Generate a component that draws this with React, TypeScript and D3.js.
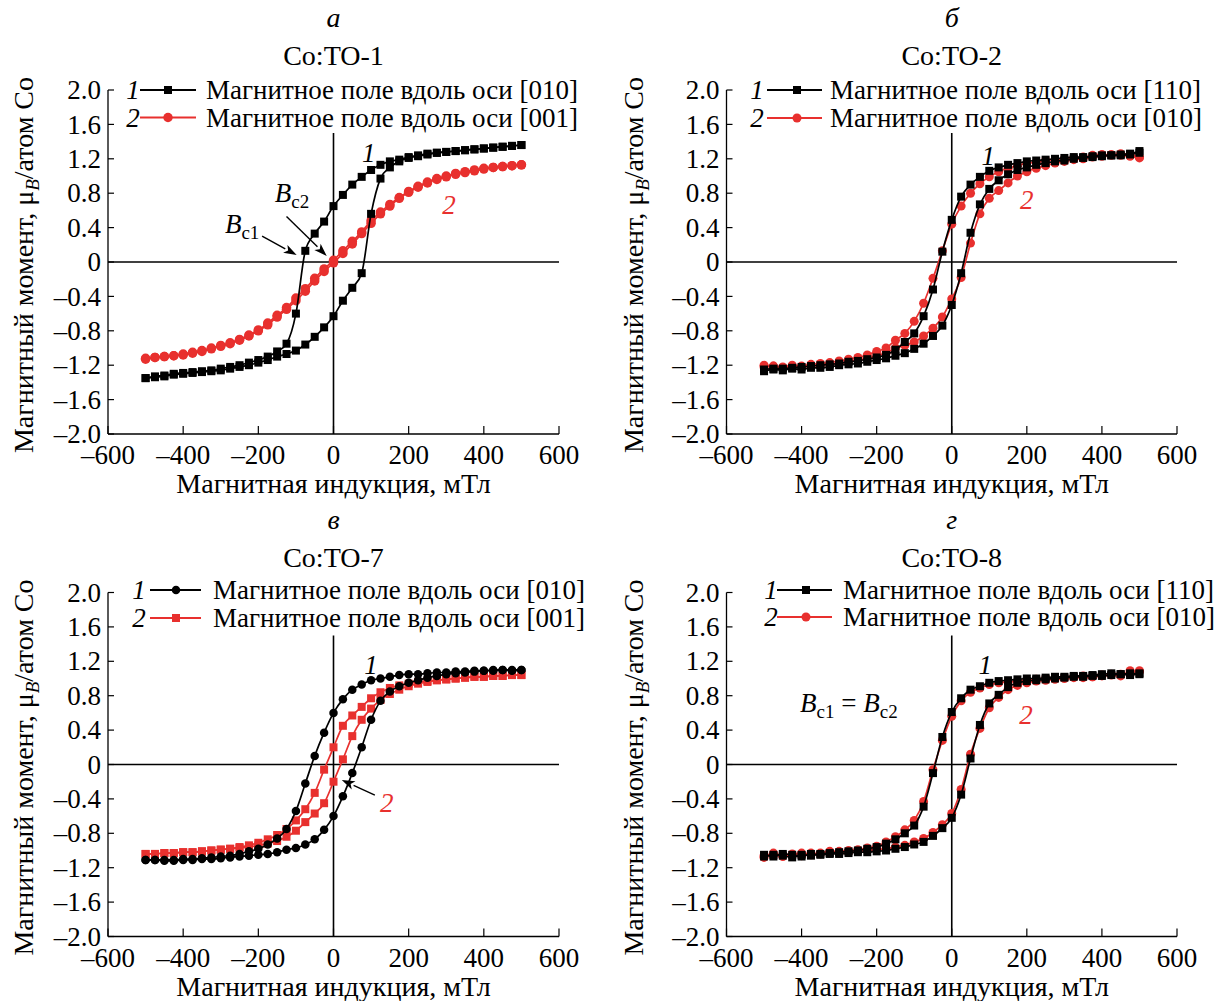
import React from "react";
import * as d3 from "d3";

// ---------- data ----------
const FIELD = [-500, -475, -450, -425, -400, -375, -350, -325, -300, -275, -250, -225, -200, -175, -150, -125, -100, -75, -50, -25, 0, 25, 50, 75, 100, 125, 150, 175, 200, 225, 250, 275, 300, 325, 350, 375, 400, 425, 450, 475, 500];

const X_TICKS = [-600, -400, -200, 0, 200, 400, 600];
const X_TICK_LABELS = ["–600", "–400", "–200", "0", "200", "400", "600"];
const Y_TICKS = [2.0, 1.6, 1.2, 0.8, 0.4, 0, -0.4, -0.8, -1.2, -1.6, -2.0];
const Y_TICK_LABELS = ["2.0", "1.6", "1.2", "0.8", "0.4", "0", "–0.4", "–0.8", "–1.2", "–1.6", "–2.0"];

const PANEL_LETTERS = ["а", "б", "в", "г"];
const PANEL_TITLES = ["Co:TO-1", "Co:TO-2", "Co:TO-7", "Co:TO-8"];
const LEGEND_LABELS = [
  ["Магнитное поле вдоль оси [010]", "Магнитное поле вдоль оси [001]"],
  ["Магнитное поле вдоль оси [110]", "Магнитное поле вдоль оси [010]"],
  ["Магнитное поле вдоль оси [010]", "Магнитное поле вдоль оси [001]"],
  ["Магнитное поле вдоль оси [110]", "Магнитное поле вдоль оси [010]"],
];
const X_TITLE = "Магнитная индукция, мТл";

// Panel а (Co:TO-1)
const A1_DOWN = [-1.35, -1.33, -1.32, -1.30, -1.29, -1.28, -1.27, -1.26, -1.24, -1.22, -1.20, -1.17, -1.14, -1.10, -1.04, -0.95, -0.60, 0.13, 0.33, 0.47, 0.65, 0.78, 0.90, 0.99, 1.07, 1.13, 1.17, 1.19, 1.22, 1.24, 1.26, 1.27, 1.28, 1.29, 1.30, 1.31, 1.32, 1.33, 1.34, 1.35, 1.36];
const A1_UP = [-1.35, -1.34, -1.33, -1.31, -1.30, -1.29, -1.28, -1.27, -1.26, -1.24, -1.22, -1.20, -1.17, -1.14, -1.10, -1.07, -1.03, -0.96, -0.87, -0.76, -0.63, -0.45, -0.30, -0.13, 0.56, 0.97, 1.10, 1.17, 1.21, 1.23, 1.25, 1.27, 1.28, 1.29, 1.30, 1.31, 1.32, 1.33, 1.34, 1.35, 1.36];
const A2_DOWN = [-1.12, -1.11, -1.10, -1.09, -1.07, -1.05, -1.03, -1.00, -0.97, -0.94, -0.90, -0.85, -0.79, -0.71, -0.62, -0.53, -0.42, -0.31, -0.19, -0.08, 0.02, 0.13, 0.24, 0.35, 0.48, 0.58, 0.67, 0.75, 0.82, 0.88, 0.93, 0.97, 1.00, 1.03, 1.05, 1.07, 1.09, 1.10, 1.11, 1.12, 1.13];
const A2_UP = [-1.13, -1.11, -1.10, -1.09, -1.08, -1.06, -1.04, -1.01, -0.98, -0.95, -0.91, -0.86, -0.80, -0.73, -0.64, -0.55, -0.45, -0.34, -0.22, -0.11, -0.01, 0.10, 0.21, 0.33, 0.45, 0.56, 0.65, 0.74, 0.81, 0.87, 0.92, 0.96, 0.99, 1.02, 1.04, 1.06, 1.08, 1.10, 1.11, 1.12, 1.13];

// Panel б (Co:TO-2)
const B1_DOWN = [-1.25, -1.24, -1.24, -1.23, -1.22, -1.21, -1.20, -1.19, -1.18, -1.16, -1.15, -1.13, -1.11, -1.08, -1.02, -0.93, -0.83, -0.63, -0.32, 0.12, 0.49, 0.76, 0.90, 0.99, 1.06, 1.10, 1.13, 1.15, 1.17, 1.18, 1.19, 1.20, 1.21, 1.22, 1.22, 1.23, 1.24, 1.24, 1.25, 1.26, 1.29];
const B1_UP = [-1.27, -1.25, -1.26, -1.24, -1.25, -1.23, -1.23, -1.22, -1.20, -1.19, -1.18, -1.16, -1.14, -1.12, -1.09, -1.06, -1.01, -0.95, -0.86, -0.74, -0.50, -0.13, 0.34, 0.67, 0.85, 0.95, 1.02, 1.07, 1.10, 1.13, 1.15, 1.17, 1.18, 1.20, 1.21, 1.22, 1.23, 1.24, 1.24, 1.25, 1.27];
const B2_DOWN = [-1.20, -1.21, -1.22, -1.20, -1.21, -1.19, -1.18, -1.17, -1.15, -1.13, -1.11, -1.08, -1.04, -1.00, -0.91, -0.83, -0.69, -0.48, -0.19, 0.13, 0.44, 0.65, 0.80, 0.91, 0.99, 1.05, 1.09, 1.12, 1.15, 1.16, 1.18, 1.19, 1.20, 1.21, 1.22, 1.24, 1.25, 1.24, 1.26, 1.25, 1.22];
const B2_UP = [-1.22, -1.21, -1.23, -1.22, -1.22, -1.21, -1.20, -1.19, -1.18, -1.16, -1.14, -1.12, -1.09, -1.06, -1.00, -0.97, -0.93, -0.86, -0.77, -0.64, -0.43, -0.18, 0.22, 0.56, 0.74, 0.83, 0.92, 1.00, 1.05, 1.09, 1.12, 1.15, 1.17, 1.19, 1.20, 1.22, 1.23, 1.25, 1.24, 1.23, 1.21];

// Panel в (Co:TO-7)
const C1_DOWN = [-1.11, -1.11, -1.11, -1.11, -1.10, -1.10, -1.09, -1.08, -1.07, -1.06, -1.04, -1.01, -0.98, -0.93, -0.86, -0.75, -0.54, -0.22, 0.10, 0.37, 0.60, 0.76, 0.87, 0.93, 0.98, 1.00, 1.02, 1.04, 1.05, 1.05, 1.06, 1.07, 1.07, 1.08, 1.08, 1.09, 1.09, 1.10, 1.10, 1.10, 1.10];
const C1_UP = [-1.11, -1.11, -1.12, -1.12, -1.11, -1.11, -1.10, -1.10, -1.09, -1.08, -1.07, -1.06, -1.05, -1.04, -1.02, -0.99, -0.97, -0.93, -0.87, -0.76, -0.60, -0.37, -0.10, 0.20, 0.52, 0.74, 0.85, 0.91, 0.95, 0.98, 1.01, 1.03, 1.05, 1.06, 1.07, 1.08, 1.09, 1.09, 1.10, 1.09, 1.10];
const C2_DOWN = [-1.04, -1.04, -1.03, -1.03, -1.02, -1.02, -1.01, -1.00, -0.99, -0.98, -0.96, -0.94, -0.91, -0.87, -0.82, -0.75, -0.65, -0.52, -0.33, -0.06, 0.20, 0.45, 0.57, 0.67, 0.77, 0.84, 0.89, 0.92, 0.94, 0.96, 0.97, 0.98, 0.99, 1.00, 1.01, 1.02, 1.02, 1.03, 1.03, 1.04, 1.04];
const C2_UP = [-1.04, -1.04, -1.03, -1.03, -1.02, -1.02, -1.01, -1.00, -0.99, -0.98, -0.97, -0.96, -0.94, -0.92, -0.89, -0.84, -0.77, -0.67, -0.57, -0.45, -0.20, 0.06, 0.33, 0.52, 0.65, 0.75, 0.82, 0.87, 0.91, 0.94, 0.96, 0.98, 0.99, 1.00, 1.01, 1.02, 1.02, 1.03, 1.03, 1.04, 1.04];

// Panel г (Co:TO-8)
const D1_DOWN = [-1.07, -1.05, -1.06, -1.08, -1.05, -1.06, -1.04, -1.03, -1.02, -1.01, -1.00, -0.98, -0.96, -0.92, -0.87, -0.80, -0.71, -0.49, -0.10, 0.32, 0.61, 0.77, 0.87, 0.91, 0.95, 0.97, 0.98, 0.99, 1.00, 1.00, 1.01, 1.02, 1.02, 1.03, 1.03, 1.04, 1.05, 1.06, 1.05, 1.06, 1.05];
const D1_UP = [-1.05, -1.07, -1.04, -1.05, -1.07, -1.04, -1.05, -1.04, -1.04, -1.03, -1.02, -1.02, -1.01, -1.00, -0.98, -0.96, -0.93, -0.90, -0.83, -0.74, -0.62, -0.35, 0.07, 0.46, 0.71, 0.81, 0.90, 0.95, 0.97, 0.98, 0.99, 1.00, 1.01, 1.02, 1.02, 1.03, 1.03, 1.04, 1.05, 1.04, 1.06];
const D2_DOWN = [-1.08, -1.03, -1.06, -1.05, -1.03, -1.05, -1.03, -1.01, -1.01, -1.00, -0.99, -0.97, -0.95, -0.90, -0.84, -0.76, -0.65, -0.43, -0.06, 0.28, 0.56, 0.74, 0.84, 0.89, 0.93, 0.95, 0.96, 0.97, 0.98, 0.99, 1.00, 1.00, 1.01, 1.02, 1.03, 1.02, 1.04, 1.05, 1.03, 1.09, 1.08];
const D2_UP = [-1.06, -1.05, -1.07, -1.04, -1.06, -1.03, -1.04, -1.03, -1.03, -1.02, -1.01, -1.00, -0.99, -0.98, -0.96, -0.94, -0.90, -0.86, -0.79, -0.70, -0.57, -0.29, 0.12, 0.42, 0.66, 0.78, 0.87, 0.92, 0.95, 0.97, 0.98, 0.99, 1.00, 1.01, 1.01, 1.02, 1.03, 1.04, 1.05, 1.05, 1.09];

// ---------- styling ----------
const FONT = "'Liberation Serif', 'Times New Roman', serif";
const FS = 27;      // ticks, legend, notes
const FS_T = 28;    // titles & axis titles
const RED = "#e8302e";
const BLACK = "#000";

type Series = { color: string; marker: "square" | "circle"; size: number; branches: number[][] };

type PanelCfg = {
  x0: number; x1: number; yTop: number; yBot: number;
  letter: string; title: string;
  letterY: number; titleY: number;
  yTitleX: number;
  legend: { num: number; l0: number; l1: number; mk: number; tx: number; rows: number[] };
  legendLabels: string[];
  series: Series[];
  notes: (x: d3.ScaleLinear<number, number>, y: d3.ScaleLinear<number, number>) => React.ReactNode;
};

function Marker({ kind, cx, cy, size, color }: { kind: string; cx: number; cy: number; size: number; color: string }) {
  if (kind === "square") {
    return <rect x={cx - size / 2} y={cy - size / 2} width={size} height={size} fill={color} />;
  }
  return <circle cx={cx} cy={cy} r={size / 2} fill={color} />;
}

function Arrow({ x1, y1, x2, y2 }: { x1: number; y1: number; x2: number; y2: number }) {
  const ang = Math.atan2(y2 - y1, x2 - x1);
  const L = 13, W = 4.5;
  const bx = x2 - L * Math.cos(ang), by = y2 - L * Math.sin(ang);
  const px = -Math.sin(ang) * W, py = Math.cos(ang) * W;
  return (
    <g>
      <line x1={x1} y1={y1} x2={bx} y2={by} stroke="#000" strokeWidth={1.4} />
      <polygon points={`${x2},${y2} ${bx + px},${by + py} ${bx + L * 0.25 * Math.cos(ang)},${by + L * 0.25 * Math.sin(ang)} ${bx - px},${by - py}`} fill="#000" />
    </g>
  );
}

function BLabel({ x, y, sub }: { x: number; y: number; sub: string }) {
  return (
    <text x={x} y={y} fontFamily={FONT} fontSize={FS}>
      <tspan fontStyle="italic">B</tspan>
      <tspan fontSize={19} dy={6}>{sub}</tspan>
    </text>
  );
}

function Panel({ cfg }: { cfg: PanelCfg }) {
  const x = d3.scaleLinear().domain([-600, 600]).range([cfg.x0, cfg.x1]);
  const y = d3.scaleLinear().domain([-2, 2]).range([cfg.yBot, cfg.yTop]);
  const line = d3
    .line<number>()
    .x((_, i) => x(FIELD[i]))
    .y((d) => y(d))
    .curve(d3.curveMonotoneX);
  const cx = (cfg.x0 + cfg.x1) / 2;
  const cy = (cfg.yTop + cfg.yBot) / 2;
  const order = [1, 0];
  return (
    <g fontFamily={FONT}>
      <text x={cx} y={cfg.letterY} textAnchor="middle" fontSize={FS_T} fontStyle="italic">{cfg.letter}</text>
      <text x={cx} y={cfg.titleY} textAnchor="middle" fontSize={FS_T}>{cfg.title}</text>

      <line x1={cfg.x0} x2={cfg.x0} y1={y(2)} y2={y(-2)} stroke="#000" strokeWidth={1.3} />
      <line x1={cfg.x0} x2={x(600)} y1={y(-2)} y2={y(-2)} stroke="#000" strokeWidth={1.3} />
      {Y_TICKS.map((t, i) => (
        <g key={"yt" + i}>
          <line x1={cfg.x0} x2={cfg.x0 + 6} y1={y(t)} y2={y(t)} stroke="#000" strokeWidth={1.2} />
          <text x={cfg.x0 - 7} y={y(t)} dy="0.34em" textAnchor="end" fontSize={FS}>{Y_TICK_LABELS[i]}</text>
        </g>
      ))}
      {X_TICKS.map((t, i) => (
        <g key={"xt" + i}>
          <line x1={x(t)} x2={x(t)} y1={y(-2)} y2={y(-2) - 8} stroke="#000" strokeWidth={1.2} />
          <text x={x(t)} y={y(-2) + 30} textAnchor="middle" fontSize={FS}>{X_TICK_LABELS[i]}</text>
        </g>
      ))}
      <text x={cx} y={y(-2) + 59} textAnchor="middle" fontSize={FS_T}>{X_TITLE}</text>
      <text transform={`translate(${cfg.yTitleX},${cy + 3}) rotate(-90)`} textAnchor="middle" fontSize={FS_T}>
        Магнитный момент, μ<tspan fontStyle="italic" fontSize={19} dy={6}>B</tspan>
        <tspan dy={-6}>/атом Co</tspan>
      </text>

      <line x1={x(-600)} x2={x(600)} y1={y(0)} y2={y(0)} stroke="#000" strokeWidth={1.6} />
      <line x1={x(0)} x2={x(0)} y1={y(1.5)} y2={y(-2)} stroke="#000" strokeWidth={1.6} />

      {order.map((si) => {
        const s = cfg.series[si];
        return (
          <g key={"s" + si}>
            {s.branches.map((b, bi) => (
              <path key={"p" + bi} d={line(b) || ""} fill="none" stroke={s.color} strokeWidth={1.7} />
            ))}
            {s.branches.map((b, bi) =>
              b.map((v, i) => (
                <Marker key={`m${bi}-${i}`} kind={s.marker} cx={x(FIELD[i])} cy={y(v)} size={s.size} color={s.color} />
              ))
            )}
          </g>
        );
      })}

      {cfg.series.map((s, i) => {
        const ry = cfg.legend.rows[i];
        return (
          <g key={"lg" + i}>
            <text x={cfg.legend.num} y={ry} dy="0.34em" textAnchor="middle" fontSize={FS} fontStyle="italic">{i + 1}</text>
            <line x1={cfg.legend.l0} x2={cfg.legend.l1} y1={ry} y2={ry} stroke={s.color} strokeWidth={1.8} />
            <Marker kind={s.marker} cx={cfg.legend.mk} cy={ry} size={s.size} color={s.color} />
            <text x={cfg.legend.tx} y={ry} dy="0.34em" fontSize={FS}>{cfg.legendLabels[i]}</text>
          </g>
        );
      })}

      {cfg.notes(x, y)}
    </g>
  );
}

const numLabel = (x: number, y: number, txt: string, color: string) => (
  <text x={x} y={y} dy="0.34em" textAnchor="middle" fontSize={FS} fontStyle="italic" fill={color} fontFamily={FONT}>{txt}</text>
);

const PANELS: PanelCfg[] = [
  {
    x0: 108, x1: 559, yTop: 90, yBot: 434,
    letter: PANEL_LETTERS[0], title: PANEL_TITLES[0], letterY: 27, titleY: 65, yTitleX: 33,
    legend: { num: 133, l0: 140, l1: 196, mk: 168, tx: 206, rows: [90, 117.5] },
    legendLabels: LEGEND_LABELS[0],
    series: [
      { color: BLACK, marker: "square", size: 8, branches: [A1_DOWN, A1_UP] },
      { color: RED, marker: "circle", size: 9.5, branches: [A2_DOWN, A2_UP] },
    ],
    notes: (x, y) => (
      <g>
        {numLabel(x(94), y(1.27), "1", BLACK)}
        {numLabel(x(307), y(0.66), "2", RED)}
        <BLabel x={x(-156)} y={y(0.70)} sub="c2" />
        <BLabel x={x(-289)} y={y(0.34)} sub="c1" />
        <Arrow x1={x(-190)} y1={y(0.30)} x2={x(-98)} y2={y(0.08)} />
        <Arrow x1={x(-125)} y1={y(0.53)} x2={x(-18)} y2={y(0.07)} />
      </g>
    ),
  },
  {
    x0: 726.5, x1: 1177, yTop: 90, yBot: 434,
    letter: PANEL_LETTERS[1], title: PANEL_TITLES[1], letterY: 27, titleY: 65, yTitleX: 643,
    legend: { num: 757, l0: 767, l1: 822, mk: 797, tx: 830, rows: [90, 118] },
    legendLabels: LEGEND_LABELS[1],
    series: [
      { color: BLACK, marker: "square", size: 8, branches: [B1_DOWN, B1_UP] },
      { color: RED, marker: "circle", size: 9, branches: [B2_DOWN, B2_UP] },
    ],
    notes: (x, y) => (
      <g>
        {numLabel(x(97), y(1.24), "1", BLACK)}
        {numLabel(x(200), y(0.72), "2", RED)}
      </g>
    ),
  },
  {
    x0: 108, x1: 559, yTop: 592.5, yBot: 936.5,
    letter: PANEL_LETTERS[2], title: PANEL_TITLES[2], letterY: 529, titleY: 567, yTitleX: 33,
    legend: { num: 139, l0: 150, l1: 201, mk: 176, tx: 213, rows: [590, 618] },
    legendLabels: LEGEND_LABELS[2],
    series: [
      { color: BLACK, marker: "circle", size: 8.5, branches: [C1_DOWN, C1_UP] },
      { color: RED, marker: "square", size: 8, branches: [C2_DOWN, C2_UP] },
    ],
    notes: (x, y) => (
      <g>
        {numLabel(x(100), y(1.16), "1", BLACK)}
        {numLabel(x(142), y(-0.44), "2", RED)}
        <Arrow x1={x(110)} y1={y(-0.355)} x2={x(22)} y2={y(-0.18)} />
      </g>
    ),
  },
  {
    x0: 726.5, x1: 1177, yTop: 592.5, yBot: 936.5,
    letter: PANEL_LETTERS[3], title: PANEL_TITLES[3], letterY: 529, titleY: 567, yTitleX: 643,
    legend: { num: 771, l0: 777, l1: 832, mk: 806, tx: 843, rows: [590, 617] },
    legendLabels: LEGEND_LABELS[3],
    series: [
      { color: BLACK, marker: "square", size: 8, branches: [D1_DOWN, D1_UP] },
      { color: RED, marker: "circle", size: 9, branches: [D2_DOWN, D2_UP] },
    ],
    notes: (x, y) => (
      <g>
        {numLabel(x(89), y(1.16), "1", BLACK)}
        {numLabel(x(198), y(0.575), "2", RED)}
        <text x={x(-404)} y={y(0.61)} fontFamily={FONT} fontSize={FS}>
          <tspan fontStyle="italic">B</tspan>
          <tspan fontSize={19} dy={6}>c1</tspan>
          <tspan dy={-6}> = </tspan>
          <tspan fontStyle="italic">B</tspan>
          <tspan fontSize={19} dy={6}>c2</tspan>
        </text>
      </g>
    ),
  },
];

export default function App() {
  return (
    <svg width={1219} height={1001} style={{ position: "absolute", left: 0, top: 0, background: "#fff" }}>
      <rect width={1219} height={1001} fill="#fff" />
      {PANELS.map((p, i) => (
        <Panel key={i} cfg={p} />
      ))}
    </svg>
  );
}
